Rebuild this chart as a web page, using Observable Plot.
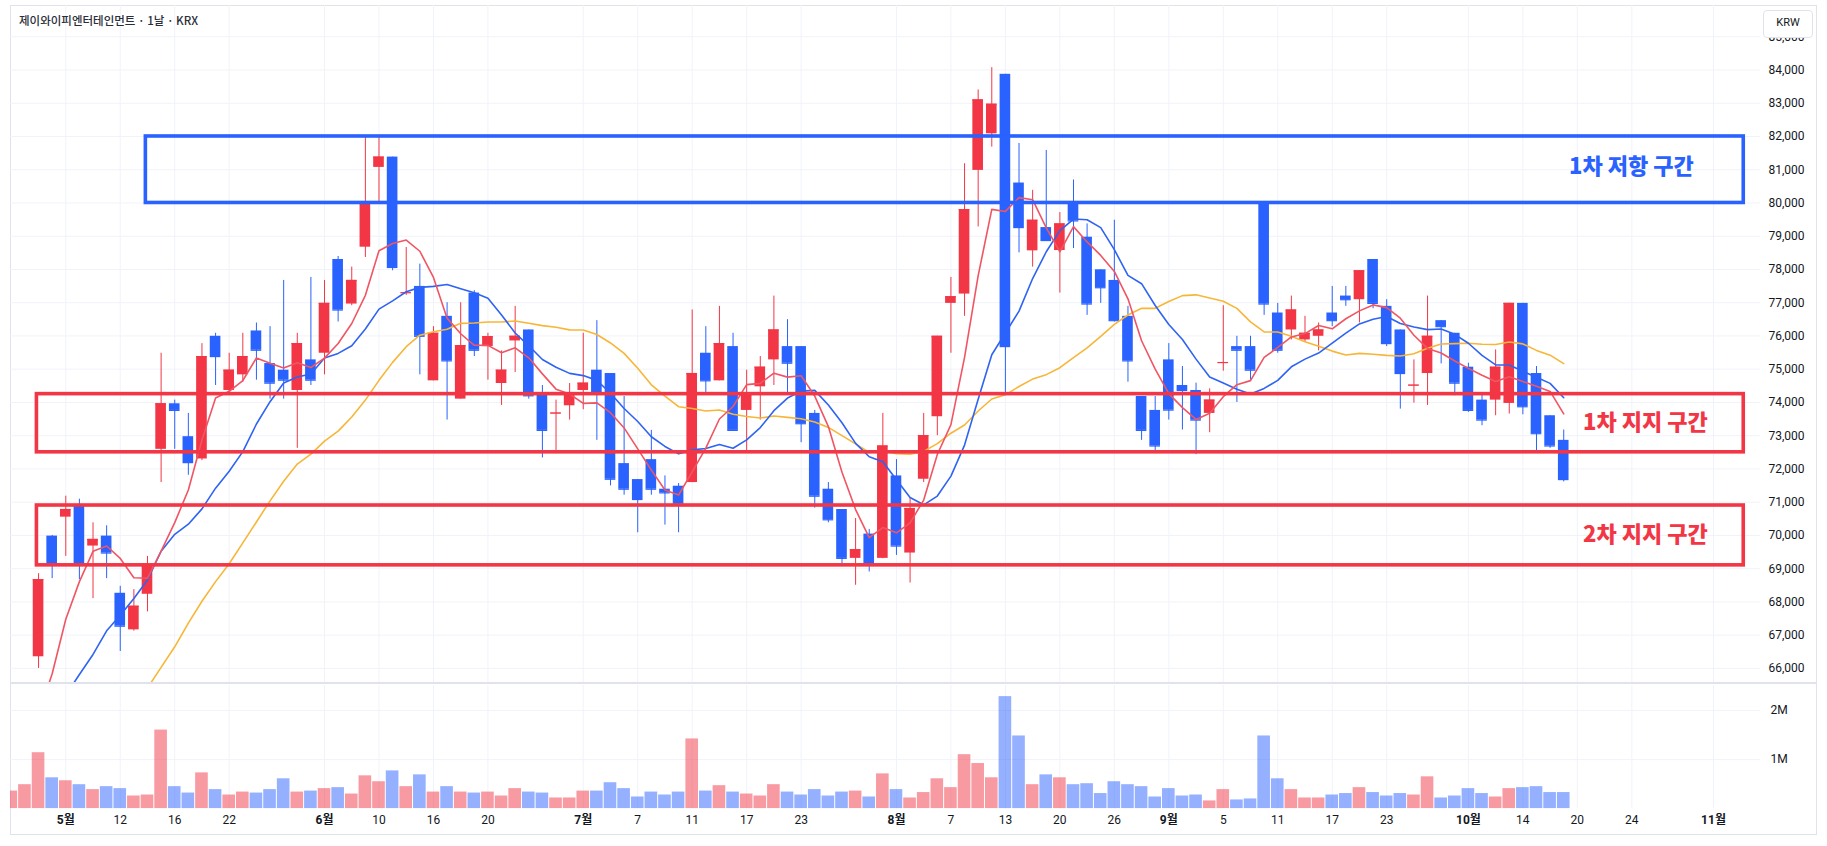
<!DOCTYPE html>
<html><head><meta charset="utf-8">
<script src="https://cdn.jsdelivr.net/npm/d3@7"></script>
<script src="https://cdn.jsdelivr.net/npm/@observablehq/plot@0.6"></script>
<style>
html,body{margin:0;padding:0;background:#fff;}
#wrap{position:relative;width:1827px;height:846px;overflow:hidden;font-family:Roboto,"Noto Sans CJK KR",sans-serif;}
#frame{position:absolute;left:10px;top:5px;width:1807px;height:830px;box-sizing:border-box;border:1px solid #e0e3eb;}
#price{position:absolute;left:10px;top:5px;}
#vol{position:absolute;left:10px;top:685px;}
#sep{position:absolute;left:10px;top:682px;width:1807px;height:2px;background:#e0e3eb;}
#title{position:absolute;left:19px;top:12px;font-size:11.5px;color:#2a2e39;font-weight:500;font-family:"Noto Sans CJK KR",Roboto,sans-serif;white-space:nowrap;}
#krw{position:absolute;left:1763px;top:10px;width:50px;height:28px;box-sizing:border-box;border:1px solid #e0e3eb;border-radius:4px;background:#fff;font-size:11px;color:#131722;text-align:center;line-height:24px;}
</style></head><body>
<div id="wrap">
  <div id="frame"></div>
  <div id="price"></div>
  <div id="sep"></div>
  <div id="vol"></div>
  <div id="title">제이와이피엔터테인먼트 · 1날 · KRX</div>
  <div id="krw">KRW</div>
</div>
<script>
// ---------- data ----------
const dates = [
"2025-04-25","2025-04-28","2025-04-29","2025-04-30","2025-05-02","2025-05-07","2025-05-08","2025-05-09","2025-05-12","2025-05-13",
"2025-05-14","2025-05-15","2025-05-16","2025-05-19","2025-05-20","2025-05-21","2025-05-22","2025-05-23","2025-05-26","2025-05-27",
"2025-05-28","2025-05-29","2025-05-30","2025-06-02","2025-06-04","2025-06-05","2025-06-09","2025-06-10","2025-06-11","2025-06-12",
"2025-06-13","2025-06-16","2025-06-17","2025-06-18","2025-06-19","2025-06-20","2025-06-23","2025-06-24","2025-06-25","2025-06-26",
"2025-06-27","2025-06-30","2025-07-01","2025-07-02","2025-07-03","2025-07-04","2025-07-07","2025-07-08","2025-07-09","2025-07-10",
"2025-07-11","2025-07-14","2025-07-15","2025-07-16","2025-07-17","2025-07-18","2025-07-21","2025-07-22","2025-07-23","2025-07-24",
"2025-07-25","2025-07-28","2025-07-29","2025-07-30","2025-07-31","2025-08-01","2025-08-04","2025-08-05","2025-08-06","2025-08-07",
"2025-08-08","2025-08-11","2025-08-12","2025-08-13","2025-08-14","2025-08-18","2025-08-19","2025-08-20","2025-08-21","2025-08-22",
"2025-08-25","2025-08-26","2025-08-27","2025-08-28","2025-08-29","2025-09-01","2025-09-02","2025-09-03","2025-09-04","2025-09-05",
"2025-09-08","2025-09-09","2025-09-10","2025-09-11","2025-09-12","2025-09-15","2025-09-16","2025-09-17","2025-09-18","2025-09-19",
"2025-09-22","2025-09-23","2025-09-24","2025-09-25","2025-09-26","2025-09-29","2025-09-30","2025-10-01","2025-10-02","2025-10-10",
"2025-10-13","2025-10-14","2025-10-15","2025-10-16","2025-10-17"];
const futureDates = ["2025-10-20","2025-10-21","2025-10-22","2025-10-23","2025-10-24","2025-10-27","2025-10-28","2025-10-29","2025-10-30","2025-10-31","2025-11-03","2025-11-04","2025-11-05","2025-11-06","2025-11-07"];

const open = [62800,63600,66350,69980,70550,70880,69680,69980,68260,67160,
68230,72590,73960,72970,72300,75990,74360,74830,76150,75170,
74970,74360,75280,75480,78300,76960,78670,81070,81380,77290,
77490,74650,76590,74100,77290,75680,74570,75850,76180,74270,
73660,73900,74360,74970,74870,72160,71680,72280,71390,71480,
71590,75480,74650,75680,73760,74470,75280,75680,75680,73670,
71390,70780,69310,70040,69310,71790,69470,71690,73570,76980,
77260,80980,82080,83870,80600,78560,79260,78570,80040,78970,
77990,77670,76590,74180,73760,75280,74510,74360,73670,75180,
75680,75680,80040,76690,76180,75880,75990,76690,77200,77090,
78300,76890,76180,74500,74870,76460,76080,75060,74070,74070,
73970,76980,74870,73600,72860];
const high = [63800,65450,68850,70000,71180,71090,70380,70290,68470,68370,
69370,75480,74070,73670,75770,76080,75480,76080,76390,76280,
77670,76080,77760,77670,78390,78070,81990,81990,81380,78660,
78160,76280,77000,77000,77360,76080,75550,76890,76180,74510,
74070,74570,76080,76460,74870,74180,71680,73160,71790,71560,
76780,76280,76890,76080,74970,75380,77200,76490,75680,73760,
71590,70780,70510,70180,73670,72280,71120,73670,75990,77760,
81180,83400,84070,83870,81790,80380,81580,79710,80690,79370,
77990,79480,76890,74180,74180,75770,75080,74580,74410,76910,
75990,75990,80040,76980,77200,76590,76390,77490,77490,77960,
78300,77090,76180,75280,77200,76460,76080,75180,74270,75580,
76980,76980,75080,73600,73170];
const low = [62500,63400,66000,68700,69370,68670,68100,68700,66510,67120,
67700,71590,72590,71810,72250,74510,74300,74610,74670,74100,
74100,72620,74510,74830,76420,76910,78360,80040,77960,77220,
74830,74650,73470,74100,75380,74670,73910,74900,74100,72330,
72460,73470,73780,72860,71490,71210,70080,71210,70310,70080,
71590,74300,74650,73160,72500,73470,74510,74270,72790,70820,
70380,69100,68500,68900,69300,69400,68570,71590,73000,75480,
76590,79280,81680,74300,78500,78070,78870,77290,78630,76620,
76980,76420,74610,72860,72500,73470,73170,72430,73090,74940,
74000,74670,76620,75480,75880,75810,75550,76280,76890,76390,
76820,75680,73800,73980,73910,75160,74200,73700,73300,73600,
73650,73630,72500,72620,71610];
const close = [63500,65300,68670,69140,70780,69140,69880,69470,67270,67870,
69060,73960,73760,72190,75380,75380,74970,75380,75570,74580,
74670,75770,74670,76980,76780,77670,80010,81380,78060,77300,
75990,76080,75250,75710,75570,75980,74970,75990,74200,73160,
73680,74240,74580,74270,71690,71390,71080,71390,71280,70940,
74870,74650,75770,73160,74230,75060,76180,75180,73360,71180,
70470,69310,69570,69140,72690,69680,70810,73000,75990,77180,
79800,83100,82970,75680,79260,79480,78870,79370,79460,76960,
77450,76460,75250,73160,72690,73770,74360,73470,74070,75200,
75570,74970,76960,75570,76780,76080,76180,76460,77090,77960,
76980,75770,74870,74520,75990,76280,74580,73760,73470,75060,
76980,73870,73060,72690,71680];
const volume = [360000,490000,1140000,630000,570000,490000,390000,450000,410000,260000,
280000,1600000,450000,320000,730000,390000,280000,340000,320000,390000,
610000,340000,360000,410000,430000,300000,670000,550000,770000,450000,
690000,340000,450000,340000,320000,340000,260000,410000,340000,320000,
220000,220000,360000,360000,530000,410000,240000,340000,280000,340000,
1420000,360000,470000,340000,300000,260000,490000,340000,280000,390000,
260000,340000,360000,240000,710000,390000,220000,330000,610000,430000,
1100000,920000,630000,2280000,1480000,490000,690000,630000,490000,510000,
310000,550000,490000,450000,240000,410000,260000,280000,160000,390000,
180000,200000,1480000,610000,390000,220000,220000,280000,310000,430000,
330000,260000,310000,280000,650000,220000,260000,410000,310000,240000,
410000,430000,450000,330000,330000];

// moving-average lines as drawn (5, 10, 20)
const ma5 = [null,null,64600,65840,67480,68610,69522,69682,69308,68726,
68710,69526,70384,71368,72870,74134,74336,74660,75336,75176,
75034,75194,75052,75334,75774,76374,77222,78564,78780,78884,
78548,77762,76536,76066,75720,75718,75496,75644,75342,74860,
74400,74254,73972,73986,73692,73234,72602,71964,71366,71216,
71912,72626,73502,73878,74536,74574,74880,74762,74802,74192,
73274,71900,70778,69934,70236,70078,70378,71064,72434,73332,
75356,77814,79808,79746,80162,80098,79252,78532,79288,78828,
78422,77940,77116,75856,75002,74266,73846,73490,73672,74174,
74534,74656,75354,75654,75970,76072,76314,76214,76518,76754,
76934,76852,76534,76020,75626,75486,75248,75026,74816,74630,
74770,74628,74488,74332,73656];
const ma10 = [null,null,null,null,65200,65815,66420,67130,67600,68100,
68660,69524,70033,70338,70798,71422,71931,72522,73352,74023,
74584,74765,74856,75335,75475,75704,76208,76808,77057,77329,
77461,77492,77550,77423,77302,77133,76629,76090,75704,75290,
75059,74875,74808,74664,74276,73817,73428,72968,72676,72454,
72573,72614,72733,72622,72876,73243,73753,74132,74340,74364,
73924,73390,72770,72368,72214,71676,71139,70921,71184,71784,
72717,74096,75436,76090,76747,77727,78533,79170,79517,79495,
79260,78596,77824,77572,76915,76344,75893,75303,74764,74588,
74400,74251,74422,74663,75072,75303,75485,75784,76086,76362,
76503,76583,76374,76269,76190,76210,76050,75780,75418,75128,
75128,74938,74757,74574,74143];
const ma20 = [null,null,null,null,null,null,null,null,null,null,
65410,66030,66650,67360,68020,68610,69150,69775,70405,71040,
71630,72145,72445,72837,73137,73563,74070,74665,75205,75676,
76023,76129,76203,76379,76389,76419,76419,76449,76381,76310,
76260,76184,76179,76044,75789,75475,75029,74529,74190,73872,
73816,73745,73771,73643,73576,73530,73591,73550,73508,73409,
73249,73002,72752,72495,72545,72460,72446,72527,72762,73074,
73321,73743,74103,74229,74481,74702,74836,75046,75351,75640,
75989,76346,76630,76831,76831,77036,77213,77237,77141,77042,
76830,76424,76123,76118,75994,75824,75689,75544,75425,75475,
75452,75417,75398,75466,75631,75757,75768,75782,75752,75745,
75816,75761,75566,75422,75167];

// axis ticks
const tickDates = ["2025-05-02","2025-05-12","2025-05-16","2025-05-22","2025-06-02","2025-06-10","2025-06-16","2025-06-20",
"2025-07-01","2025-07-07","2025-07-11","2025-07-17","2025-07-23","2025-08-01","2025-08-07","2025-08-13","2025-08-20","2025-08-26",
"2025-09-01","2025-09-05","2025-09-11","2025-09-17","2025-09-23","2025-10-01","2025-10-14","2025-10-20","2025-10-24","2025-11-03"];
const tickLabels = ["5월","12","16","22","6월","10","16","20","7월","7","11","17","23","8월","7","13","20","26",
"9월","5","11","17","23","10월","14","20","24","11월"];
const priceTicks = [66000,67000,68000,69000,70000,71000,72000,73000,74000,75000,76000,77000,78000,79000,80000,81000,82000,83000,84000,85000];
const volumeTicks = [1000000,2000000];
const volumeTickLabels = ["1M","2M"];

// zones (drawn boxes)
const zoneNames = ["1차 저항 구간","1차 지지 구간","2차 지지 구간"];
const zoneKinds = ["resistance","support","support"];
const zoneLow = [80000,72500,69100];
const zoneHigh = [82000,74250,70900];
const zoneStart = ["2025-05-14","2025-04-29","2025-04-29"];
const zoneEnd = ["2025-11-05","2025-11-05","2025-11-05"];

// ---------- styles ----------
const RED = "#f23645", BLUE = "#2962ff";
const MA5C = "#f05563", MA10C = "#2f63f2", MA20C = "#f7b638";
const GRID = "#f0f3fa", TXT = "#131722";
const FONT = "Roboto, 'Noto Sans CJK KR', sans-serif";

// ---------- build ----------
const allDates = dates.concat(futureDates);
const pos = d => allDates.indexOf(d);
const candles = dates.map((d, i) => ({i, open: open[i], high: high[i], low: low[i], close: close[i],
  volume: volume[i], ma5: ma5[i], ma10: ma10[i], ma20: ma20[i]}));
const up = candles.filter(c => c.close >= c.open);
const down = candles.filter(c => c.close < c.open);
const ticks = tickDates.map((d, k) => ({i: pos(d), label: tickLabels[k]}));
const labelOf = new Map(ticks.map(t => [t.i, t.label]));
const monthTicks = ticks.filter(t => t.label.endsWith("월")).map(t => t.i);
const dayTicks = ticks.filter(t => !t.label.endsWith("월")).map(t => t.i);
const tickIdx = ticks.map(t => t.i);
const zones = zoneNames.map((n, k) => ({name: n, kind: zoneKinds[k], low: zoneLow[k], high: zoneHigh[k],
  x1: pos(zoneStart[k]) - 0.12, x2: pos(zoneEnd[k]) + 0.22, mid: (zoneLow[k] + zoneHigh[k]) / 2}));
const resist = zones.filter(z => z.kind === "resistance");
const support = zones.filter(z => z.kind === "support");

const W = 1807, MR = 57;
const xScale = {type: "linear", domain: [-0.06, 128.45], axis: null};
const HW = 0.39;

const price = Plot.plot({
  width: W, height: 679, marginLeft: 0, marginRight: MR, marginTop: 0, marginBottom: 0,
  x: xScale,
  y: {type: "linear", domain: [65516, 85940], axis: null},
  style: {fontFamily: FONT, color: TXT, background: "transparent"},
  marks: [
    Plot.gridY(priceTicks, {stroke: GRID, strokeOpacity: 1}),
    Plot.gridX(tickIdx, {stroke: GRID, strokeOpacity: 1}),
    // candles
    Plot.ruleX(up, {x: "i", y1: "low", y2: "high", stroke: RED, strokeWidth: 1, clip: true}),
    Plot.ruleX(down, {x: "i", y1: "low", y2: "high", stroke: BLUE, strokeWidth: 1, clip: true}),
    Plot.rect(up, {x1: d => d.i - HW, x2: d => d.i + HW, y1: "open", y2: "close", fill: RED, clip: true}),
    Plot.rect(down, {x1: d => d.i - HW, x2: d => d.i + HW, y1: "open", y2: "close", fill: BLUE, clip: true}),
    Plot.ruleY(up, {x1: d => d.i - HW, x2: d => d.i + HW, y: "close", stroke: RED, strokeWidth: 1.2, clip: true}),
    Plot.ruleY(down, {x1: d => d.i - HW, x2: d => d.i + HW, y: "close", stroke: BLUE, strokeWidth: 1.2, clip: true}),
    // moving averages
    Plot.line(candles, {x: "i", y: "ma20", stroke: MA20C, strokeWidth: 1.6, clip: true}),
    Plot.line(candles, {x: "i", y: "ma10", stroke: MA10C, strokeWidth: 1.6, clip: true}),
    Plot.line(candles, {x: "i", y: "ma5", stroke: MA5C, strokeWidth: 1.6, clip: true}),
    // zones
    Plot.rect(resist, {x1: "x1", x2: "x2", y1: "low", y2: "high", fill: "none", stroke: BLUE, strokeWidth: 3.6}),
    Plot.rect(support, {x1: "x1", x2: "x2", y1: "low", y2: "high", fill: "none", stroke: RED, strokeWidth: 3.6}),
    Plot.text(resist, {x: "x2", y: "mid", text: "name", textAnchor: "end", dx: -50, dy: -3, fill: BLUE,
      fontSize: 22, fontWeight: 900, fontFamily: "'Noto Sans CJK KR', sans-serif"}),
    Plot.text(support, {x: "x2", y: "mid", text: "name", textAnchor: "end", dx: -36, dy: 0, fill: RED,
      fontSize: 22, fontWeight: 900, fontFamily: "'Noto Sans CJK KR', sans-serif"}),
    Plot.axisY(priceTicks, {anchor: "right", label: null, tickSize: 0, tickPadding: 8, fontSize: 12,
      tickFormat: d3.format(",")})
  ]
});
document.getElementById("price").appendChild(price);

const vol = Plot.plot({
  width: W, height: 150, marginLeft: 0, marginRight: MR, marginTop: 0, marginBottom: 26.7,
  x: xScale,
  y: {type: "linear", domain: [0, 2506000], axis: null},
  style: {fontFamily: FONT, color: TXT, background: "transparent"},
  marks: [
    Plot.gridY(volumeTicks, {stroke: GRID, strokeOpacity: 1}),
    Plot.gridX(tickIdx, {stroke: GRID, strokeOpacity: 1}),
    Plot.rect(up, {x1: d => d.i - 0.5, x2: d => d.i + 0.5, y1: 0, y2: "volume", fill: RED, fillOpacity: 0.5,
      insetLeft: 0.5, insetRight: 0.5, clip: true}),
    Plot.rect(down, {x1: d => d.i - 0.5, x2: d => d.i + 0.5, y1: 0, y2: "volume", fill: BLUE, fillOpacity: 0.5,
      insetLeft: 0.5, insetRight: 0.5, clip: true}),
    Plot.axisY(volumeTicks, {anchor: "right", label: null, tickSize: 0, tickPadding: 10, fontSize: 12,
      tickFormat: d => volumeTickLabels[volumeTicks.indexOf(d)]}),
    Plot.axisX(monthTicks, {anchor: "bottom", label: null, tickSize: 0, tickPadding: 7, fontSize: 12, fontWeight: 700,
      tickFormat: d => labelOf.get(d)}),
    Plot.axisX(dayTicks, {anchor: "bottom", label: null, tickSize: 0, tickPadding: 7, fontSize: 12,
      tickFormat: d => labelOf.get(d)})
  ]
});
document.getElementById("vol").appendChild(vol);
</script>
</body></html>
